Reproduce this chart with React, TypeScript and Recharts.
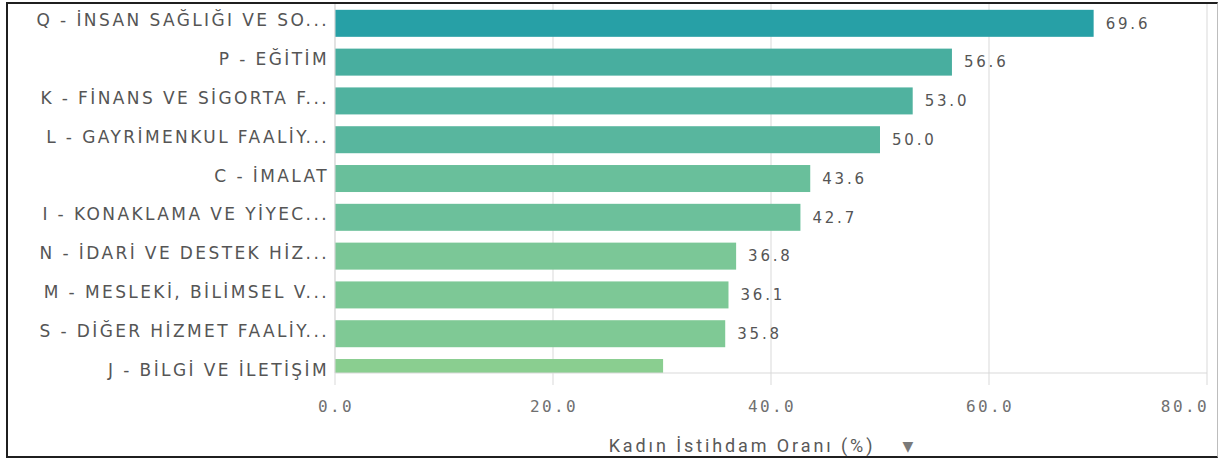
import React from 'react';
import { BarChart, Bar, XAxis, YAxis, CartesianGrid, LabelList, Cell } from 'recharts';

const categories = [
  'Q - İNSAN SAĞLIĞI VE SO...',
  'P - EĞİTİM',
  'K - FİNANS VE SİGORTA F...',
  'L - GAYRİMENKUL FAALİY...',
  'C - İMALAT',
  'I - KONAKLAMA VE YİYEC...',
  'N - İDARİ VE DESTEK HİZ...',
  'M - MESLEKİ, BİLİMSEL V...',
  'S - DİĞER HİZMET FAALİY...',
  'J - BİLGİ VE İLETİŞİM',
];
const values = [69.6, 56.6, 53.0, 50.0, 43.6, 42.7, 36.8, 36.1, 35.8, 30.1];
const xTicks = [0, 20, 40, 60, 80];
const axisTitle = 'Kadın İstihdam Oranı (%)';

const barColors = ['#27a0a6', '#48ae9f', '#50b29f', '#58b69e', '#69bf9b', '#6cc09b', '#7bc797', '#7dc896', '#7fc995', '#8ace90'];

const data = categories.map((name, i) => ({ name, value: values[i] }));

const CHART_H = 461;
const MARGIN_BOTTOM = 28;
const XAXIS_H = 60;
const PLOT_BOTTOM = CHART_H - MARGIN_BOTTOM - XAXIS_H;

const CategoryTick = (props: any) => {
  const { x, y, payload } = props;
  return (
    <text x={x} y={y - 3} dy="0.355em" textAnchor="end" fill="#555"
      style={{ fontFamily: 'DejaVu Sans', fontSize: 17, letterSpacing: 2.4 }}>
      {payload.value}
    </text>
  );
};

const ValueTick = (props: any) => {
  const { x, y, payload } = props;
  const last = payload.value === xTicks[xTicks.length - 1];
  return (
    <text x={last ? x + 2 : x + 1} y={y} dy="0.71em" textAnchor={last ? 'end' : 'middle'} fill="#707070"
      style={{ fontFamily: 'DejaVu Sans Mono', fontSize: 16, letterSpacing: 2.4 }}>
      {Number(payload.value).toFixed(1)}
    </text>
  );
};

const ValueLabel = (props: any) => {
  const vb = props.viewBox || props;
  if (props.index === values.length - 1) return null;
  const x = vb.x + vb.width + 12;
  const y = vb.y + vb.height / 2;
  return (
    <text x={x} y={y} dy="0.355em" textAnchor="start" fill="#555"
      style={{ fontFamily: 'DejaVu Sans', fontSize: 15, letterSpacing: 2.8 }}>
      {Number(props.value).toFixed(1)}
    </text>
  );
};

const ClippedBar = (props: any) => {
  const { x, y, width, height, fill } = props;
  const h = Math.max(0, Math.min(height, PLOT_BOTTOM - y));
  return <rect x={x} y={y} width={width} height={h} fill={fill} />;
};

const AxisTitle = () => (
  <g>
    <text x={742} y={446} dy="0.355em" textAnchor="middle" fill="#595959"
      style={{ fontFamily: 'Roboto', fontSize: 18, letterSpacing: 2.9 }}>
      {axisTitle}
    </text>
    <text x={908} y={446} dy="0.355em" textAnchor="middle" fill="#7a7a7a"
      style={{ fontFamily: 'DejaVu Sans', fontSize: 14 }}>
      ▼
    </text>
  </g>
);

export default function App() {
  return (
    <div style={{ position: 'absolute', left: 0, top: 0, width: 1218, height: 461, background: '#fff' }}>
      <BarChart
        width={1218}
        height={CHART_H}
        data={data}
        layout="vertical"
        margin={{ top: 4, right: 11, left: 0, bottom: MARGIN_BOTTOM }}
        barCategoryGap="15%"
      >
        <CartesianGrid horizontal={false} stroke="#d9d9d9" />
        <XAxis
          type="number"
          domain={[0, 80]}
          ticks={xTicks}
          height={XAXIS_H}
          axisLine={{ stroke: '#d9d9d9' }}
          tickLine={{ stroke: '#d9d9d9' }}
          tickSize={12}
          tickMargin={16}
          tick={<ValueTick />}
          interval={0}
          label={<AxisTitle />}
        />
        <YAxis
          type="category"
          dataKey="name"
          width={335}
          padding={{ top: 0, bottom: -19 }}
          axisLine={{ stroke: '#d9d9d9' }}
          tickLine={false}
          tickSize={0}
          tickMargin={6}
          tick={<CategoryTick />}
          interval={0}
        />
        <Bar dataKey="value" isAnimationActive={false} shape={<ClippedBar />}>
          {data.map((d, i) => (
            <Cell key={d.name} fill={barColors[i]} />
          ))}
          <LabelList dataKey="value" content={<ValueLabel />} />
        </Bar>
      </BarChart>
      <div style={{
        position: 'absolute', left: 6, top: 2, width: 1212, height: 456, boxSizing: 'border-box',
        borderLeft: '2px solid #1f1f1f', borderTop: '2px solid #1f1f1f', borderBottom: '2px solid #1f1f1f',
        borderRight: '1px solid #bdbdbd', pointerEvents: 'none',
      }} />
    </div>
  );
}
